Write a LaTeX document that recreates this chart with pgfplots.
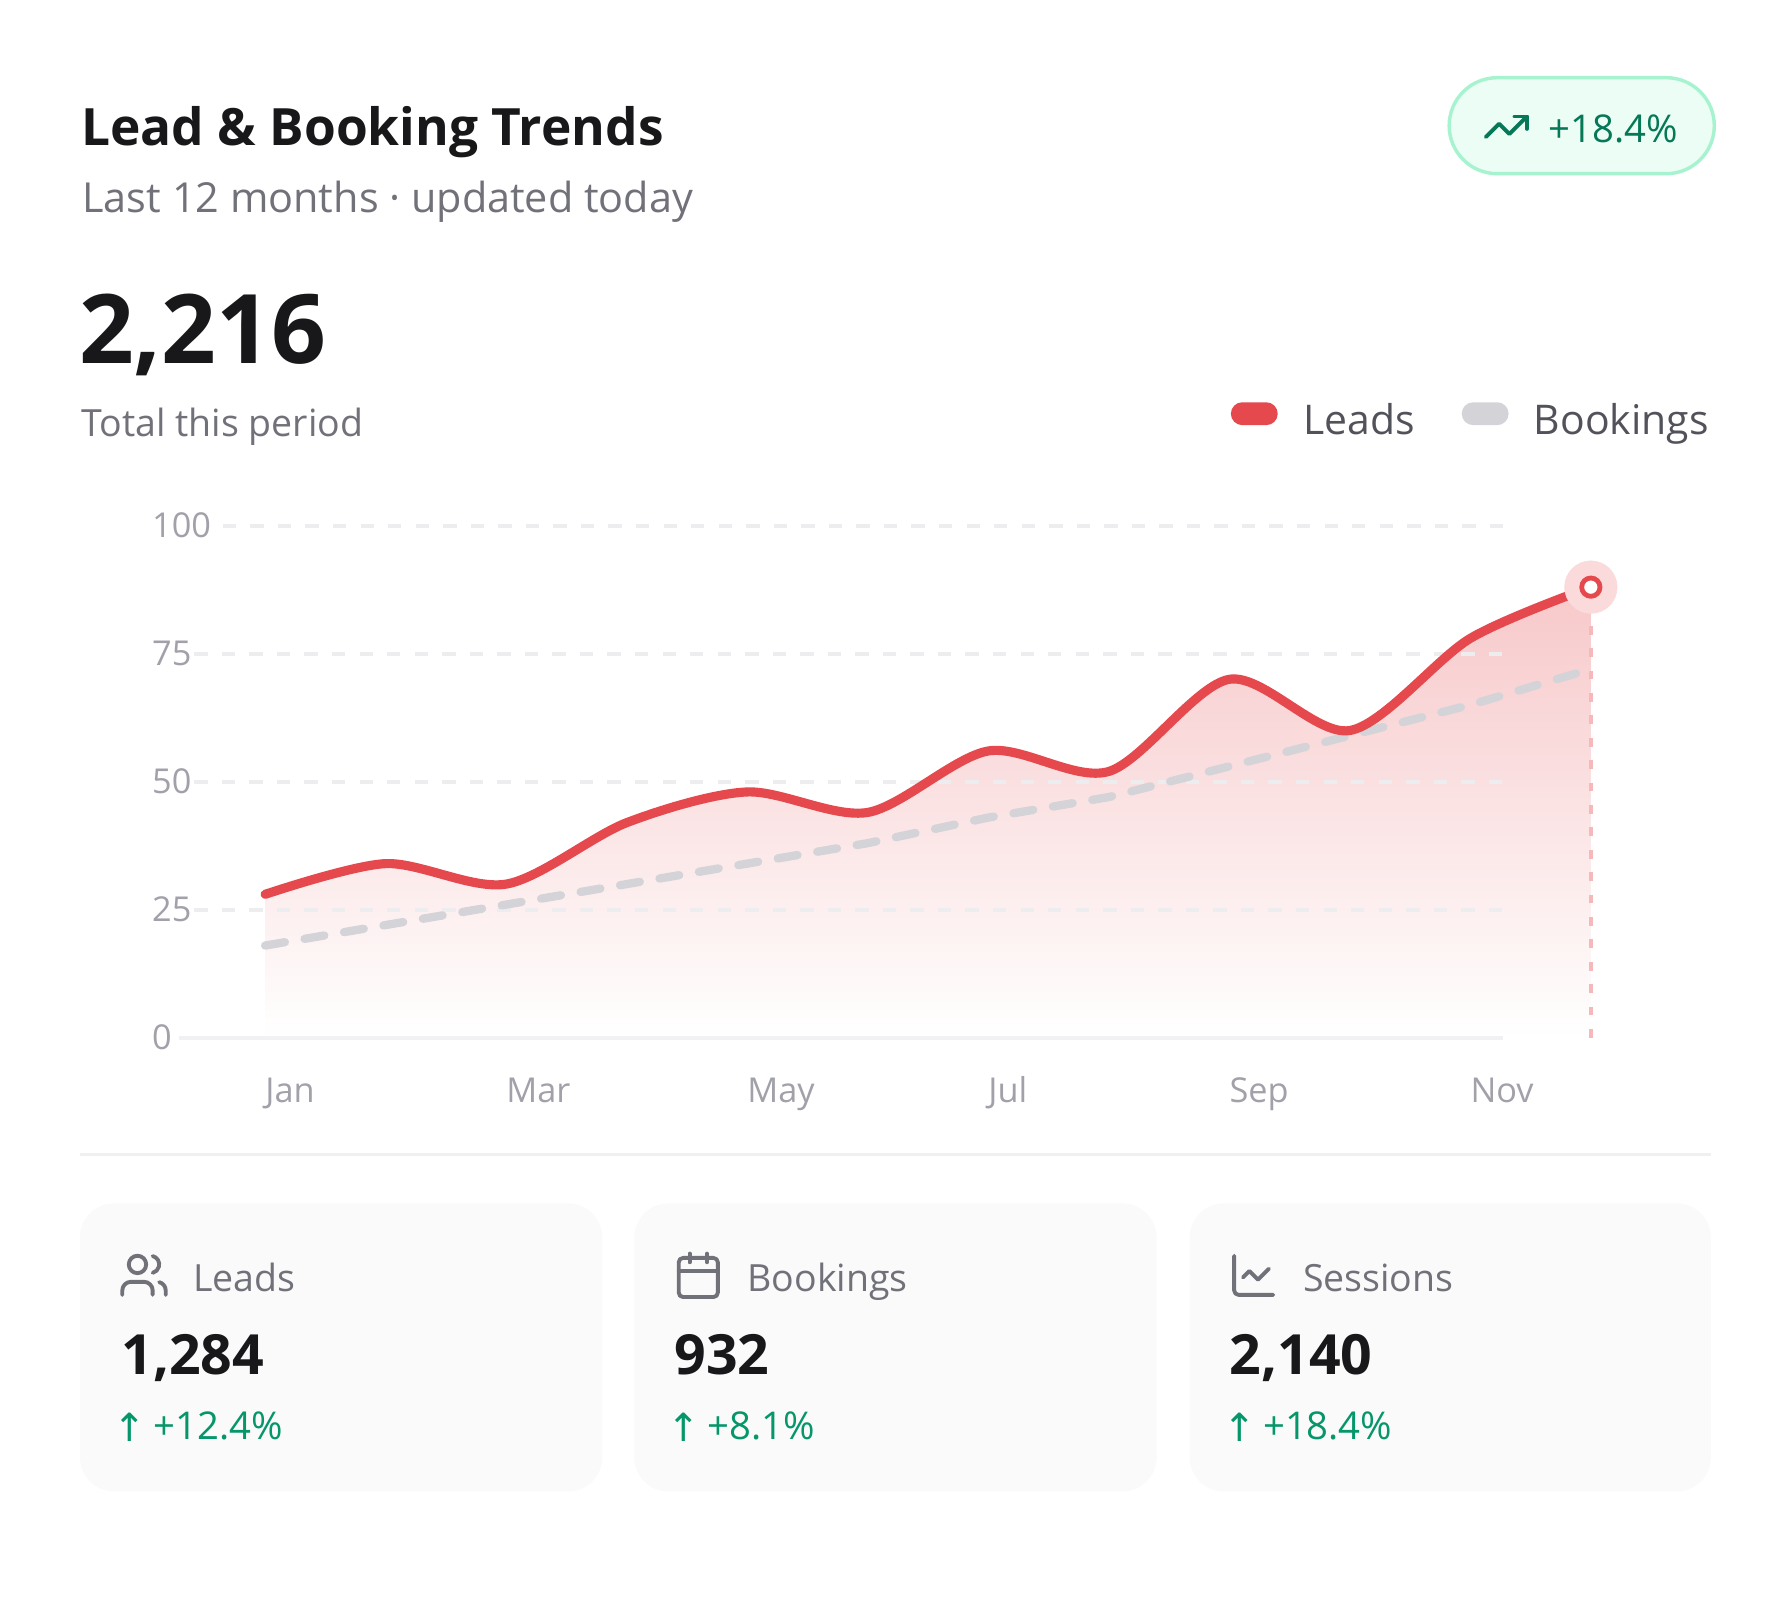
\documentclass[border=0pt]{standalone}
\usepackage{fontspec}
\setmainfont{Open Sans}
\newfontfamily\symfont{DejaVu Sans}
\usepackage{pgfplots}
\usepackage{pgfplotstable}
\pgfplotsset{compat=1.18}

\definecolor{leadred}{HTML}{E5484D}
\definecolor{bookgray}{HTML}{D4D4D8}
\definecolor{gridc}{HTML}{EDEDF0}
\definecolor{basec}{HTML}{F1F1F3}
\definecolor{tickgray}{HTML}{A1A1AA}
\definecolor{ink}{HTML}{18181B}
\definecolor{muted}{HTML}{71717A}
\definecolor{legtext}{HTML}{52525B}
\definecolor{cardbg}{HTML}{FAFAFA}
\definecolor{sepc}{HTML}{F0F0F0}
\definecolor{badgefill}{HTML}{ECFDF5}
\definecolor{badgeline}{HTML}{A7F3D0}
\definecolor{badgetext}{HTML}{047857}
\definecolor{upgreen}{HTML}{059669}

\newcommand{\fs}[1]{\fontsize{#1}{#1}\selectfont}

% monthly values, Jan = 0 ... Dec = 11
\pgfplotstableread{
m  leads bookings
0  28    18
1  34    22
2  30    26
3  42    30
4  48    34
5  44    38
6  56    43
7  52    47
8  70    53
9  60    59
10 78    65
11 88    72
}\trend

\begin{document}
\begin{tikzpicture}[x=1pt,y=1pt]
\fill[white] (0,0) rectangle (1568,1402);

% header
\node[anchor=base west, inner sep=0, text=ink, font=\fs{45}\bfseries] at (71,1275) {Lead \& Booking Trends};
\node[anchor=base west, inner sep=0, text=muted, font=\fs{36.2}] at (72,1216) {Last 12 months · updated today};
\node[anchor=base west, inner sep=0, text=ink, font=\fs{84}\bfseries] at (69,1084) {2,216};
\node[anchor=base west, inner sep=0, text=muted, font=\fs{32.8}] at (71,1020) {Total this period};

% badge
\draw[badgeline, fill=badgefill, line width=3pt, rounded corners=42pt] (1268,1250) rectangle (1500,1334);
\begin{scope}[shift={(1296.4,1269.4)}, scale=1.8, badgetext, line width=3.4pt, line cap=round, line join=round]
  \draw (2,7) -- (8.5,13.5) -- (13.5,8.5) -- (22,17);
  \draw (16,17) -- (22,17) -- (22,11);
\end{scope}
\node[anchor=base west, inner sep=0, text=badgetext, font=\fs{33.5}] at (1355,1277) {+18.4\%};

% legend
\fill[leadred, rounded corners=10pt] (1077,1030) rectangle (1118,1050);
\node[anchor=base west, inner sep=0, text=legtext, font=\fs{35.8}] at (1140,1022) {Leads};
\fill[bookgray, rounded corners=10pt] (1279,1030) rectangle (1320,1050);
\node[anchor=base west, inner sep=0, text=legtext, font=\fs{35.8}] at (1342,1022) {Bookings};

% chart
\begin{axis}[
  at={(232pt,494pt)}, anchor=south west,
  scale only axis, width=1160pt, height=448pt,
  xmin=0, xmax=11, ymin=0, ymax=100,
  clip=false,
  axis line style={draw=none},
  major tick length=0pt,
  tick style={draw=none},
  xtick={0,2,4,6,8,10},
  xticklabels={Jan,Mar,May,Jul,Sep,Nov},
  ytick={0,25,50,75,100},
  /pgf/number format/assume math mode=true,
  ticklabel style={font=\fs{30}, text=tickgray, inner sep=0pt},
  yticklabel style={anchor=west, xshift=-99pt},
  xticklabel style={anchor=base west, yshift=-57pt},
]
\addplot[draw=none, smooth, tension=0.5, top color=leadred!30!white, bottom color=white, forget plot]
  table[x=m, y=leads] {\trend} \closedcycle;

\draw[gridc, line width=3.5pt, dash pattern=on 11.7pt off 12.4pt] (axis cs:-0.351,100) -- (axis cs:10.27,100);
\draw[gridc, line width=3.5pt, dash pattern=on 11.7pt off 12.4pt] (axis cs:-0.588,75) -- (axis cs:10.27,75);
\draw[gridc, line width=3.5pt, dash pattern=on 11.7pt off 12.4pt] (axis cs:-0.588,50) -- (axis cs:10.27,50);
\draw[gridc, line width=3.5pt, dash pattern=on 11.7pt off 12.4pt] (axis cs:-0.588,25) -- (axis cs:10.27,25);
\draw[basec, line width=3.5pt] (axis cs:-0.711,0) -- (axis cs:10.27,0);

\draw[leadred!38!white, line width=3.5pt, dash pattern=on 7.6pt off 12pt] (axis cs:11,0) -- (axis cs:11,88);
\addplot[bookgray, line width=7.3pt, line cap=round, dash pattern=on 17.5pt off 17.5pt]
  table[x=m, y=bookings] {\trend};
\addplot[only marks, mark=*, mark size=23pt, color=leadred!20!white,
  mark options={draw=leadred!20!white, fill=leadred!20!white}]
  coordinates {(11,88)};
\addplot[leadred, line width=8pt, smooth, tension=0.5, line cap=round, line join=round]
  table[x=m, y=leads] {\trend};
\addplot[only marks, mark=*, mark size=8pt, color=leadred,
  mark options={draw=leadred, fill=white, line width=4.2pt}]
  coordinates {(11,88)};
\end{axis}

% separator
\draw[sepc, line width=2.5pt] (70,392) -- (1497,392);

% cards
\fill[cardbg, rounded corners=30pt] (70,97) rectangle (527,349);
\fill[cardbg, rounded corners=30pt] (555,97) rectangle (1012,349);
\fill[cardbg, rounded corners=30pt] (1041,97) rectangle (1497,349);

\begin{scope}[shift={(103.2,263.3)}, scale=1.9, muted, line width=3.4pt, line cap=round, line join=round]
  \draw (16,3) -- (16,5) arc[start angle=0, end angle=90, radius=4] -- (6,9) arc[start angle=90, end angle=180, radius=4] -- (2,3);
  \draw (9,17) circle[radius=4];
  \draw (22,3) -- (22,5) .. controls (22,6.8) and (20.8,8.4) .. (19,8.87);
  \draw (16,20.87) arc[start angle=75.6, end angle=-75.6, radius=4];
\end{scope}
\begin{scope}[shift={(588.2,263.3)}, scale=1.9, muted, line width=3.4pt, line cap=round, line join=round]
  \draw[rounded corners=3.8pt] (3,2) rectangle (21,20);
  \draw (8,22) -- (8,18);
  \draw (16,22) -- (16,18);
  \draw (3,14) -- (21,14);
\end{scope}
\begin{scope}[shift={(1074.2,263.3)}, scale=1.9, muted, line width=3.4pt, line cap=round, line join=round]
  \draw (3,21) -- (3,5) arc[start angle=180, end angle=270, radius=2] -- (21,3);
  \draw (19,15) -- (14,10) -- (10,14) -- (7,11);
\end{scope}

\node[anchor=base west, inner sep=0, text=muted, font=\fs{32.8}] at (169,272) {Leads};
\node[anchor=base west, inner sep=0, text=muted, font=\fs{32.8}] at (654,272) {Bookings};
\node[anchor=base west, inner sep=0, text=muted, font=\fs{32.8}] at (1140,272) {Sessions};

\node[anchor=base west, inner sep=0, text=ink, font=\fs{48.5}\bfseries] at (106,199) {1,284};
\node[anchor=base west, inner sep=0, text=ink, font=\fs{48.5}\bfseries] at (590,199) {932};
\node[anchor=base west, inner sep=0, text=ink, font=\fs{48.5}\bfseries] at (1076,199) {2,140};

\node[anchor=base, inner sep=0, text=upgreen, font=\fs{34}\symfont] at (113.5,141) {↑};
\node[anchor=base west, inner sep=0, text=upgreen, font=\fs{33.5}] at (134,142) {+12.4\%};
\node[anchor=base, inner sep=0, text=upgreen, font=\fs{34}\symfont] at (598.5,141) {↑};
\node[anchor=base west, inner sep=0, text=upgreen, font=\fs{33.5}] at (619,142) {+8.1\%};
\node[anchor=base, inner sep=0, text=upgreen, font=\fs{34}\symfont] at (1084.5,141) {↑};
\node[anchor=base west, inner sep=0, text=upgreen, font=\fs{33.5}] at (1105,142) {+18.4\%};

\useasboundingbox (0,0) rectangle (1568,1402);
\end{tikzpicture}
\end{document}
